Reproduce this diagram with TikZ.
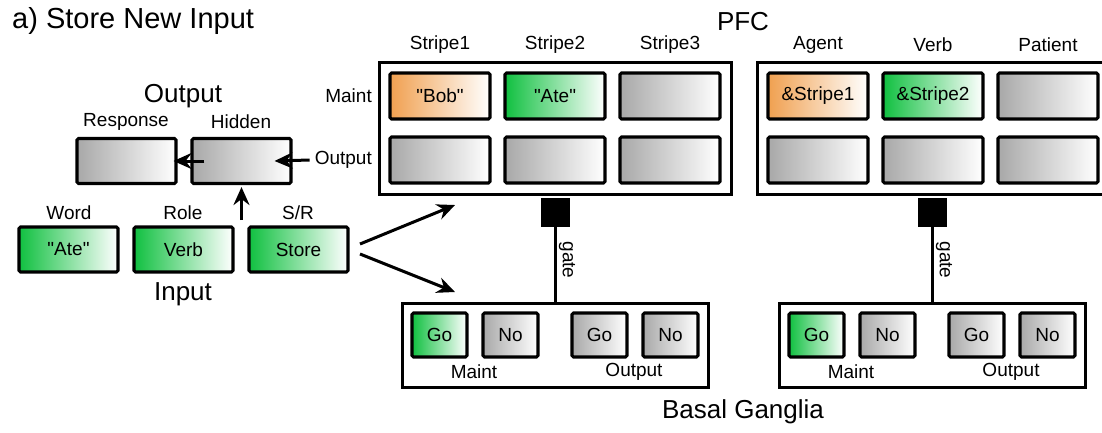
\documentclass[tikz,border=0pt]{standalone}
\usepackage{fontspec}
\setmainfont{Liberation Sans}[Ligatures=TeXOff]
\usetikzlibrary{arrows.meta}
\definecolor{gL}{HTML}{A8A8A8}
\definecolor{oL}{HTML}{F0A050}
\definecolor{grL}{HTML}{10C040}
\begin{document}
\begin{tikzpicture}[x=1pt,y=-1pt,
  lab/.style={font=\fontsize{19}{22}\selectfont, inner sep=0pt},
  big/.style={font=\fontsize{26}{30}\selectfont, inner sep=0pt},
  unitbox/.style={draw, line width=3.1pt, rounded corners=1.5pt, minimum width=99pt, minimum height=45pt, inner sep=0pt, right color=white, font=\fontsize{19}{22}\selectfont},
  grayu/.style={unitbox, left color=gL},
  greenu/.style={unitbox, left color=grL},
  orangeu/.style={unitbox, left color=oL},
  pfcu/.style={minimum width=100pt, minimum height=46pt},
  bgu/.style={minimum width=55pt, minimum height=44pt},
  frame/.style={draw, line width=3pt, inner sep=0pt},
  gatebox/.style={fill=black, minimum width=29pt, minimum height=29pt, inner sep=0pt},
  arr/.style={line width=3pt, -{Stealth[length=18pt,width=16pt,inset=6pt]}},
]
\useasboundingbox (0,0) rectangle (1102,432);
\clip (0,0) rectangle (1102,432);

% title
\node[anchor=west, font=\fontsize{29}{33}\selectfont, inner sep=0pt] (title) at (12,21) {a) Store New Input};

% Output layer
\node[big] (outT) at (183,96) {Output};
\node[lab] (respL) at (126,122) {Response};
\node[lab] (hidL) at (241,122) {Hidden};
\node[grayu] (resp) at (126.5,161) {};
\node[grayu] (hid) at (241.5,161) {};

% Input layer
\node[lab] (wordL) at (69,213) {Word};
\node[lab] (roleL) at (183,213) {Role};
\node[lab] (srL) at (298,213) {S/R};
\node[greenu] (word) at (68.5,249.5) {"Ate"};
\node[greenu] (role) at (183.5,249.5) {Verb};
\node[greenu] (sr) at (298.5,249.5) {Store};
\node[big] (inT) at (183,294) {Input};

% PFC
\node[big] (pfcT) at (743,22) {PFC};
\node[frame, minimum width=352pt, minimum height=132pt] (pfcL) at (555,128) {};
\node[frame, minimum width=352pt, minimum height=132pt] (pfcR) at (933,128) {};
\node[lab] (st1L) at (440,45) {Stripe1};
\node[lab] (st2L) at (555,45) {Stripe2};
\node[lab] (st3L) at (670,45) {Stripe3};
\node[lab] (agL) at (818,45) {Agent};
\node[lab] (vbL) at (933,45) {Verb};
\node[lab] (ptL) at (1048,45) {Patient};
\node[lab, anchor=east] (maintL) at (372,96) {Maint};
\node[lab, anchor=east] (outL) at (372,160) {Output};

\node[orangeu, pfcu] (s1m) at (440,96) {"Bob"};
\node[greenu, pfcu] (s2m) at (555,96) {"Ate"};
\node[grayu, pfcu] (s3m) at (670,96) {};
\node[grayu, pfcu] (s1o) at (440,160) {};
\node[grayu, pfcu] (s2o) at (555,160) {};
\node[grayu, pfcu] (s3o) at (670,160) {};

\node[orangeu, pfcu] (agm) at (818,96) {\&Stripe1};
\node[greenu, pfcu] (vbm) at (933,96) {\&Stripe2};
\node[grayu, pfcu] (ptm) at (1048,96) {};
\node[grayu, pfcu] (ago) at (818,160) {};
\node[grayu, pfcu] (vbo) at (933,160) {};
\node[grayu, pfcu] (pto) at (1048,160) {};

% gates
\node[gatebox] (gtL) at (555,212.5) {};
\node[gatebox] (gtR) at (932,212.5) {};

% Basal ganglia
\node[frame, minimum width=306pt, minimum height=84pt] (bgL) at (555,345) {};
\node[frame, minimum width=306pt, minimum height=84pt] (bgR) at (932,345) {};
\draw[line width=3pt] (gtL.south) -- (bgL.north);
\draw[line width=3pt] (gtR.south) -- (bgR.north);
\node[lab, rotate=-90] (gateLL) at (567,260) {gate};
\node[lab, rotate=-90] (gateRL) at (944,260) {gate};

\node[greenu, bgu] (go1) at (439.5,335) {Go};
\node[grayu, bgu] (no1) at (510.5,335) {No};
\node[grayu, bgu] (go2) at (599.5,335) {Go};
\node[grayu, bgu] (no2) at (670.5,335) {No};
\node[lab] (bgm1) at (474,372) {Maint};
\node[lab] (bgo1) at (634,372) {Output};

\node[greenu, bgu] (go3) at (816.5,335) {Go};
\node[grayu, bgu] (no3) at (887.5,335) {No};
\node[grayu, bgu] (go4) at (976.5,335) {Go};
\node[grayu, bgu] (no4) at (1047.5,335) {No};
\node[lab] (bgm2) at (851,372) {Maint};
\node[lab] (bgo2) at (1011,372) {Output};

\node[big] (bgT) at (743,412) {Basal Ganglia};

% arrows
\coordinate (upS) at (241.5,220);
\draw[arr, shorten >=2pt] (upS) -- (hid.south);
\draw[arr] ([xshift=14pt]hid.west) -- ([xshift=-4pt]resp.east);
\draw[arr] ([xshift=-5pt]outL.west) -- ([xshift=-18pt]hid.east);
\coordinate (a1s) at (360,244);
\coordinate (a1e) at (455,205);
\coordinate (a2s) at (360,254);
\coordinate (a2e) at (455,292);
\draw[arr] (a1s) -- (a1e);
\draw[arr] (a2s) -- (a2e);
\end{tikzpicture}
\end{document}
